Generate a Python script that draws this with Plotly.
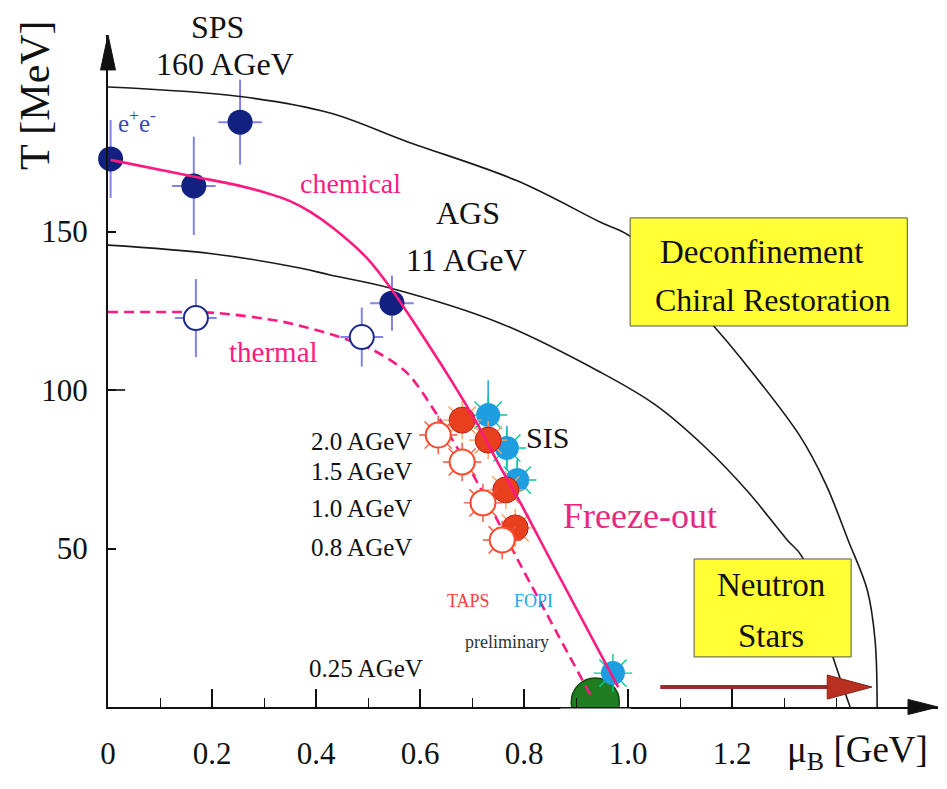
import plotly.graph_objects as go

SERIF = "Liberation Serif"

# ---- axes -------------------------------------------------------------
X_RANGE = [0, 1.596]          # mu_B [GeV]
Y_RANGE = [0, 212]            # T [MeV]
x_major = [0, 0.2, 0.4, 0.6, 0.8, 1.0, 1.2]
x_labels = ["0", "0.2", "0.4", "0.6", "0.8", "1.0", "1.2"]
x_minor = [0.1, 0.3, 0.5, 0.7, 0.9, 1.1, 1.3, 1.4]
y_major = [50, 100, 150]
y_labels = ["50", "100", "150"]

# ---- phase boundaries ---------------------------------------------------
deconf_upper_mu = [0.0, 0.254, 0.427, 0.573, 0.787, 0.946, 1.006, 1.163, 1.215,
                   1.33, 1.38, 1.423, 1.46, 1.475, 1.479]
deconf_upper_T = [195.6, 192.6, 187.4, 178.5, 166.0, 153.0, 148.3, 120.5, 110.4,
                  85.6, 70.4, 52.7, 36.9, 21.1, 0.0]
deconf_lower_mu = [0.0, 0.2, 0.369, 0.427, 0.542, 0.754, 0.946, 1.05, 1.15,
                   1.231, 1.306, 1.335, 1.394, 1.427]
deconf_lower_T = [145.7, 143.0, 138.5, 136.3, 132.2, 121.1, 105.7, 95.6, 81.7,
                  67.8, 52.7, 47.3, 15.8, 0.0]

# chemical (solid) and thermal (dashed) freeze-out curves
chem_mu = [0.005, 0.169, 0.254, 0.312, 0.35, 0.389, 0.433, 0.498, 0.542, 0.594,
           0.662, 0.71, 0.748, 0.792, 0.856, 0.981]
chem_T = [172.6, 167.2, 164.4, 161.8, 159.6, 156.2, 151.1, 141.6, 132.5, 119.9,
          102.5, 89.3, 77.6, 64.7, 44.8, 6.3]
therm_mu = [0.0, 0.138, 0.21, 0.337, 0.446, 0.51, 0.575, 0.633, 0.715, 0.788, 0.931]
therm_T = [124.6, 124.6, 124.3, 121.5, 116.7, 112.6, 105.4, 92.1, 69.4, 46.4, 2.8]

# ---- SPS / AGS freeze-out points ------------------------------------------
chem_pts_mu = [0.005, 0.165, 0.254, 0.546]
chem_pts_T = [172.9, 164.4, 184.5, 127.4]
chem_pts_dmu = [0.0, 0.042, 0.042, 0.042]
chem_pts_dT = [12.3, 15.5, 13.4, 8.7]

therm_pts_mu = [0.169, 0.488]
therm_pts_T = [122.7, 116.7]
therm_pts_dmu = [0.040, 0.041]
therm_pts_dT = [12.3, 9.3]

# ---- SIS points (TAPS / FOPI) ----------------------------------------------
taps_chem_mu = [0.681, 0.731, 0.765, 0.783]
taps_chem_T = [90.5, 84.2, 68.5, 56.5]
taps_therm_mu = [0.635, 0.681, 0.721, 0.758]
taps_therm_T = [85.8, 77.3, 64.4, 52.7]
fopi_mu = [0.731, 0.767, 0.787, 0.971]
fopi_T = [92.1, 81.7, 71.6, 10.7]
fopi_dT = [11.0, 7.0, 7.0, 0.0]

nucleon_mu = [0.937]
nucleon_T = [1.6]

NAVY = "#12207f"
ERR = "#8282ec"
PINK = "#ff1a80"
RED = "#e8401f"
RED_OPEN = "#ff4a2a"
SKY = "#1e9ee0"

fig = go.Figure()

# ground-state nuclear matter
fig.add_trace(go.Scatter(
    x=nucleon_mu, y=nucleon_T, mode="markers", cliponaxis=True,
    marker=dict(size=48, color="#1f7d1f", line=dict(color="#0f4a0f", width=1.5)),
    showlegend=False, hoverinfo="skip"))

# chemical freeze-out points SPS / AGS
fig.add_trace(go.Scatter(
    x=chem_pts_mu, y=chem_pts_T, mode="markers", cliponaxis=False,
    marker=dict(size=25, color=NAVY),
    error_x=dict(type="data", array=chem_pts_dmu, color=ERR, thickness=2, width=0),
    error_y=dict(type="data", array=chem_pts_dT, color=ERR, thickness=2, width=0),
    showlegend=False))

# FOPI
fig.add_trace(go.Scatter(
    x=fopi_mu, y=fopi_T, mode="markers",
    marker=dict(size=32, symbol="asterisk-open", line=dict(color=SKY, width=1.4)),
    error_y=dict(type="data", array=fopi_dT, color=SKY, thickness=1.5, width=0),
    showlegend=False))
fig.add_trace(go.Scatter(
    x=fopi_mu, y=fopi_T, mode="markers",
    marker=dict(size=24, color=SKY), showlegend=False))

# TAPS chemical
fig.add_trace(go.Scatter(
    x=taps_chem_mu, y=taps_chem_T, mode="markers",
    marker=dict(size=32, symbol="asterisk-open", line=dict(color=RED_OPEN, width=1.4)),
    showlegend=False))
fig.add_trace(go.Scatter(
    x=taps_chem_mu, y=taps_chem_T, mode="markers",
    marker=dict(size=26, color=RED, line=dict(color="#b82010", width=1)),
    showlegend=False))

# phase boundaries
for mu, T in [(deconf_upper_mu, deconf_upper_T), (deconf_lower_mu, deconf_lower_T)]:
    fig.add_trace(go.Scatter(
        x=mu, y=T, mode="lines", line=dict(color="#1a1a1a", width=1.6, shape="spline"),
        showlegend=False, hoverinfo="skip"))

# freeze-out curves
fig.add_trace(go.Scatter(
    x=chem_mu, y=chem_T, mode="lines", cliponaxis=False,
    line=dict(color=PINK, width=2.6, shape="spline", smoothing=0.8),
    showlegend=False))
fig.add_trace(go.Scatter(
    x=therm_mu, y=therm_T, mode="lines",
    line=dict(color=PINK, width=2.6, dash="10px,6px", shape="spline", smoothing=0.8),
    showlegend=False))

# thermal freeze-out points SPS / AGS
fig.add_trace(go.Scatter(
    x=therm_pts_mu, y=therm_pts_T, mode="markers", cliponaxis=False,
    marker=dict(size=24, color="white", line=dict(color="#1c2a8c", width=2)),
    error_x=dict(type="data", array=therm_pts_dmu, color=ERR, thickness=2, width=0),
    error_y=dict(type="data", array=therm_pts_dT, color=ERR, thickness=2, width=0),
    showlegend=False))

# TAPS thermal
fig.add_trace(go.Scatter(
    x=taps_therm_mu, y=taps_therm_T, mode="markers",
    marker=dict(size=32, symbol="asterisk-open", line=dict(color=RED_OPEN, width=1.4)),
    showlegend=False))
fig.add_trace(go.Scatter(
    x=taps_therm_mu, y=taps_therm_T, mode="markers",
    marker=dict(size=25, color="white", line=dict(color=RED_OPEN, width=2)),
    showlegend=False))


def px(mu):
    return mu / X_RANGE[1]


def py(t):
    return t / Y_RANGE[1]


def label(text, mu, t, size, color="#111111", **kw):
    fig.add_annotation(
        text=text, x=px(mu), y=py(t), xref="paper", yref="paper", showarrow=False,
        xanchor="center", yanchor="middle",
        font=dict(family=SERIF, size=size, color=color), **kw)


# white band under the axis so the nucleon blob reads as a dome
fig.add_shape(type="rect", xref="paper", yref="paper", x0=0.545, x1=0.63,
              y0=-0.037, y1=-0.0024, fillcolor="white", line=dict(width=0),
              layer="above")

# boxes
fig.add_shape(type="rect", xref="x", yref="y", x0=1.004, x1=1.537, y0=120.2, y1=154.3,
              fillcolor="#ffff33", line=dict(color="#555555", width=1), layer="above")
fig.add_shape(type="rect", xref="x", yref="y", x0=1.127, x1=1.429, y0=15.8, y1=46.7,
              fillcolor="#ffff33", line=dict(color="#555555", width=1), layer="above")

# arrow towards neutron stars
fig.add_shape(type="line", xref="x", yref="y", x0=1.062, x1=1.39, y0=6.3, y1=6.3,
              line=dict(color="#a02828", width=4), layer="above")
fig.add_shape(type="path", xref="x", yref="y",
              path="M 1.383,10.1 L 1.469,6.3 L 1.383,2.5 Z",
              fillcolor="#b8301f", line=dict(color="#8a2018", width=1), layer="above")

# axis arrowheads
fig.add_shape(type="path", xref="paper", yref="paper",
              path="M 0.9639,0.0112 L 1,0 L 0.9639,-0.0112 Z",
              fillcolor="#111111", line=dict(color="#111111", width=1), layer="above")
fig.add_shape(type="path", xref="paper", yref="paper",
              path="M -0.009,0.948 L 0,1 L 0.009,0.948 Z",
              fillcolor="#111111", line=dict(color="#111111", width=1), layer="above")
# long tick at T = 100
fig.add_shape(type="line", xref="x", yref="y", x0=0, x1=0.033, y0=100, y1=100,
              line=dict(color="#111111", width=1.6))

# text
label("SPS", 0.2096, 214.5, 32)
label("160 AGeV", 0.225, 202.8, 32)
label("e<sup>+</sup>e<sup>-</sup>", 0.0558, 184.9, 25, "#3a48b8")
label("chemical", 0.467, 165.0, 28, PINK)
label("AGS", 0.692, 155.8, 32)
label("11 AGeV", 0.690, 141.0, 32)
label("thermal", 0.319, 112.0, 29, PINK)
label("SIS", 0.846, 84.9, 30)
label("Freeze-out", 1.023, 60.3, 36, "#e6297f")
label("2.0 AGeV", 0.4865, 83.9, 25)
label("1.5 AGeV", 0.4865, 74.4, 25)
label("1.0 AGeV", 0.4865, 62.5, 25)
label("0.8 AGeV", 0.4865, 50.2, 25)
label("0.25 AGeV", 0.496, 12.0, 25)
label("TAPS", 0.694, 33.4, 18, "#ff4040")
label("FOPI", 0.819, 33.4, 18, "#20a8f0")
label("preliminary", 0.767, 20.5, 18, "#333333")
label("Deconfinement", 1.256, 143.5, 33)
label("Chiral Restoration", 1.279, 128.4, 32)
label("Neutron", 1.275, 38.5, 33)
label("Stars", 1.275, 22.4, 33)
label("T [MeV]", -0.140, 193.1, 42, textangle=-90)
label("μ<sub>B</sub> [GeV]", 1.442, -14.2, 37)

fig.update_layout(
    width=947, height=789,
    margin=dict(l=108, r=9, t=35, b=82),
    plot_bgcolor="white", paper_bgcolor="white",
    showlegend=False,
    font=dict(family=SERIF, color="#111111"),
    xaxis=dict(
        range=X_RANGE, showgrid=False, zeroline=False,
        showline=True, linecolor="#111111", linewidth=2,
        ticks="inside", tickvals=x_major, ticktext=x_labels,
        ticklen=18, tickwidth=1.5, tickcolor="#111111",
        minor=dict(tickvals=x_minor, ticks="inside", ticklen=9, tickwidth=1.2,
                   tickcolor="#111111"),
        tickfont=dict(family=SERIF, size=31, color="#111111"),
        ticklabelstandoff=18),
    yaxis=dict(
        range=Y_RANGE, showgrid=False, zeroline=False,
        showline=True, linecolor="#111111", linewidth=2,
        ticks="inside", tickvals=y_major, ticktext=y_labels,
        ticklen=8, tickwidth=1.5, tickcolor="#111111",
        tickfont=dict(family=SERIF, size=31, color="#111111"),
        ticklabelstandoff=12),
)

fig.write_html("out.html")
